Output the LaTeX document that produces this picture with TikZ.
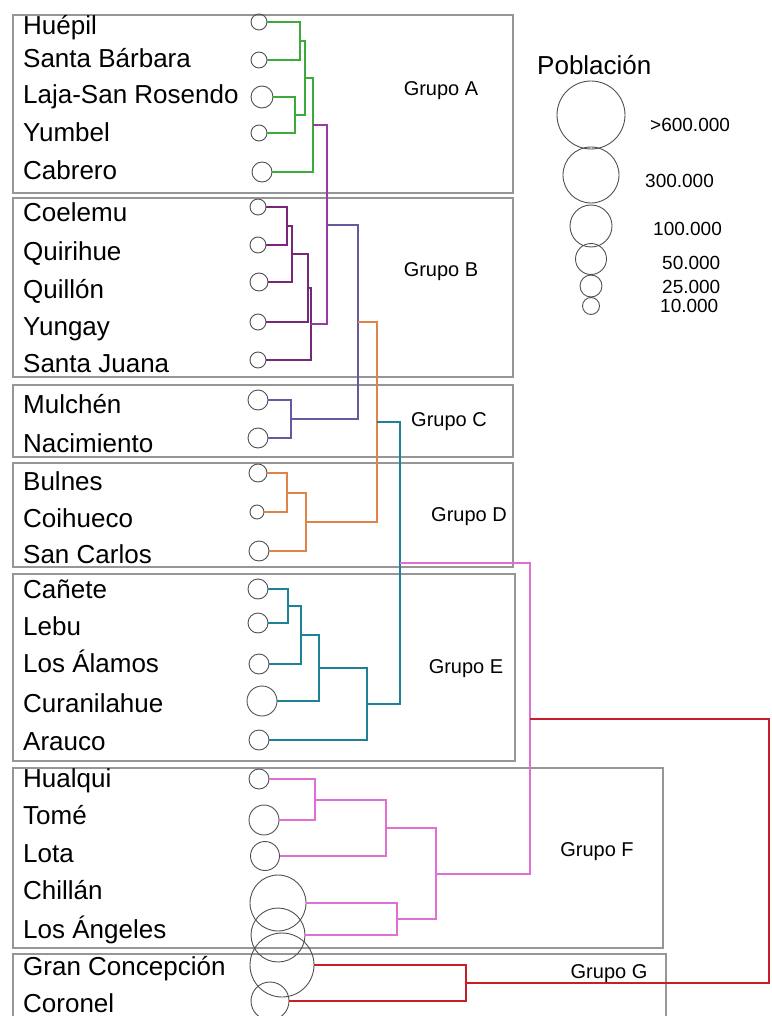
\documentclass[tikz,border=0pt]{standalone}
\usepackage{fontspec}
\setmainfont{Liberation Sans}
\usetikzlibrary{calc}

\definecolor{grpA}{RGB}{60,170,60}
\definecolor{grpAB}{RGB}{150,60,170}
\definecolor{grpB}{RGB}{120,40,120}
\definecolor{grpC}{RGB}{100,90,160}
\definecolor{grpD}{RGB}{225,130,70}
\definecolor{grpE}{RGB}{30,130,150}
\definecolor{grpF}{RGB}{225,110,210}
\definecolor{grpG}{RGB}{200,30,40}
\definecolor{circ}{RGB}{80,80,80}
\definecolor{boxgray}{RGB}{150,150,150}

% one merge of the dendrogram: colour, upper, lower, x of the join, name
\newcommand{\clusterjoin}[5]{%
  \coordinate (jx) at (#4,0);
  \draw[link,#1] (#2) -- (#2 -| jx) -- (#3 -| jx) -- (#3);
  \path let \p1=($(#2 -| jx)!.5!(#3 -| jx)$) in
    coordinate (#5) at (\x1,{round(\y1)*1pt});
}

\begin{document}
\begin{tikzpicture}[x=1pt,y=-1pt,
    pop/.style={circle,draw=circ,line width=.9pt,inner sep=0pt,minimum size=#1},
    lab/.style={anchor=base west,inner sep=0pt,font=\fontsize{26}{28}\selectfont},
    grp/.style={anchor=base,inner sep=0pt,font=\fontsize{20}{22}\selectfont},
    leg/.style={anchor=base west,inner sep=0pt,font=\fontsize{19}{21}\selectfont},
    grpbox/.style={draw=boxgray,line width=1.6pt},
    link/.style={line width=1.6pt}]
  \useasboundingbox (0,0) rectangle (771,1016);

  % group boxes
  \draw[grpbox] (13,15) rectangle (513,193);
  \draw[grpbox] (13,198) rectangle (513,377);
  \draw[grpbox] (13,385) rectangle (513,457);
  \draw[grpbox] (13,463) rectangle (513,567);
  \draw[grpbox] (13,574) rectangle (515,761);
  \draw[grpbox] (13,768) rectangle (663,948);
  \draw[grpbox] (13,954) rectangle (666,1030);

  % communes: name/label/circle x/circle y/size/baseline
  \foreach \nm/\tx/\cx/\cy/\d/\by in {
      huepil/Huépil/259/22/16/35,
      sbarbara/Santa Bárbara/259/60/16/68,
      laja/Laja-San Rosendo/262/97/22/104,
      yumbel/Yumbel/259/133/16/142,
      cabrero/Cabrero/262/172/20/180,
      coelemu/Coelemu/258/207/16/222,
      quirihue/Quirihue/258/245/16/260,
      quillon/Quillón/259/282/18/298,
      yungay/Yungay/258/322/16/335,
      sjuana/Santa Juana/258/360/16/372,
      mulchen/Mulchén/258/400/20/413,
      nacimiento/Nacimiento/258/438/20/452,
      bulnes/Bulnes/258/473/18/490,
      coihueco/Coihueco/257/512/14/527,
      sancarlos/San Carlos/259/551/20/563,
      canete/Cañete/258/589/20/598,
      lebu/Lebu/258/623/20/635,
      alamos/Los Álamos/259/664/20/672,
      curanilahue/Curanilahue/262/701/30/712,
      arauco/Arauco/259/740/20/750,
      hualqui/Hualqui/259/779/20/787,
      tome/Tomé/264/820/30/824,
      lota/Lota/265/856/29/862,
      chillan/Chillán/278/903/56/899,
      angeles/Los Ángeles/278/935/54/938,
      gconcep/Gran Concepción/282/965/64/975,
      coronel/Coronel/270/1001/38/1012}{
    \node[pop=\d pt] (\nm) at (\cx,\cy) {};
    \node[lab] (t-\nm) at (23,\by) {\tx};
  }

  % dendrogram
  \clusterjoin{grpA}{huepil}{sbarbara}{300}{m1}
  \clusterjoin{grpA}{laja}{yumbel}{295}{m2}
  \clusterjoin{grpA}{m1}{m2}{305}{m3}
  \clusterjoin{grpA}{m3}{cabrero}{313}{m4}
  \clusterjoin{grpB}{coelemu}{quirihue}{287}{m5}
  \clusterjoin{grpB}{m5}{quillon}{292}{m6}
  \clusterjoin{grpB}{m6}{yungay}{308}{m7}
  \clusterjoin{grpB}{m7}{sjuana}{311}{m8}
  \clusterjoin{grpAB}{m4}{m8}{327}{m9}
  \clusterjoin{grpC}{mulchen}{nacimiento}{291}{m10}
  \clusterjoin{grpC}{m9}{m10}{358}{m11}
  \clusterjoin{grpD}{bulnes}{coihueco}{287}{m12}
  \clusterjoin{grpD}{m12}{sancarlos}{306}{m13}
  \clusterjoin{grpD}{m11}{m13}{377}{m14}
  \clusterjoin{grpE}{canete}{lebu}{288}{m15}
  \clusterjoin{grpE}{m15}{alamos}{301}{m16}
  \clusterjoin{grpE}{m16}{curanilahue}{319}{m17}
  \clusterjoin{grpE}{m17}{arauco}{367}{m18}
  \clusterjoin{grpE}{m14}{m18}{400}{m19}
  \clusterjoin{grpF}{hualqui}{tome}{315}{m20}
  \clusterjoin{grpF}{m20}{lota}{386}{m21}
  \clusterjoin{grpF}{chillan}{angeles}{397}{m22}
  \clusterjoin{grpF}{m21}{m22}{436}{m23}
  \clusterjoin{grpF}{m19}{m23}{530}{m24}
  \clusterjoin{grpG}{gconcep}{coronel}{466}{m25}
  \clusterjoin{grpG}{m24}{m25}{769}{m26}

  % group names
  \node[grp] (ga) at (441,96) {Grupo A};
  \node[grp] (gb) at (441,276) {Grupo B};
  \node[grp] (gc) at (449,426) {Grupo C};
  \node[grp] (gd) at (469,521) {Grupo D};
  \node[grp] (ge) at (466,673) {Grupo E};
  \node[grp] (gf) at (597,856) {Grupo F};
  \node[grp] (gg) at (609,978) {Grupo G};

  % legend
  \node[lab] (pob) at (537,75) {Población};
  \node[pop=68pt] (l1) at (591,115) {};
  \node[pop=56pt] (l2) at (591,175) {};
  \node[pop=42pt] (l3) at (591,226) {};
  \node[pop=31pt] (l4) at (591,259) {};
  \node[pop=22pt] (l5) at (591,286) {};
  \node[pop=17pt] (l6) at (591,306) {};
  \node[leg] (v1) at (650,132) {>600.000};
  \node[leg] (v2) at (645,188) {300.000};
  \node[leg] (v3) at (653,236) {100.000};
  \node[leg] (v4) at (662,269) {50.000};
  \node[leg] (v5) at (662,293) {25.000};
  \node[leg] (v6) at (660,312) {10.000};
\end{tikzpicture}
\end{document}
